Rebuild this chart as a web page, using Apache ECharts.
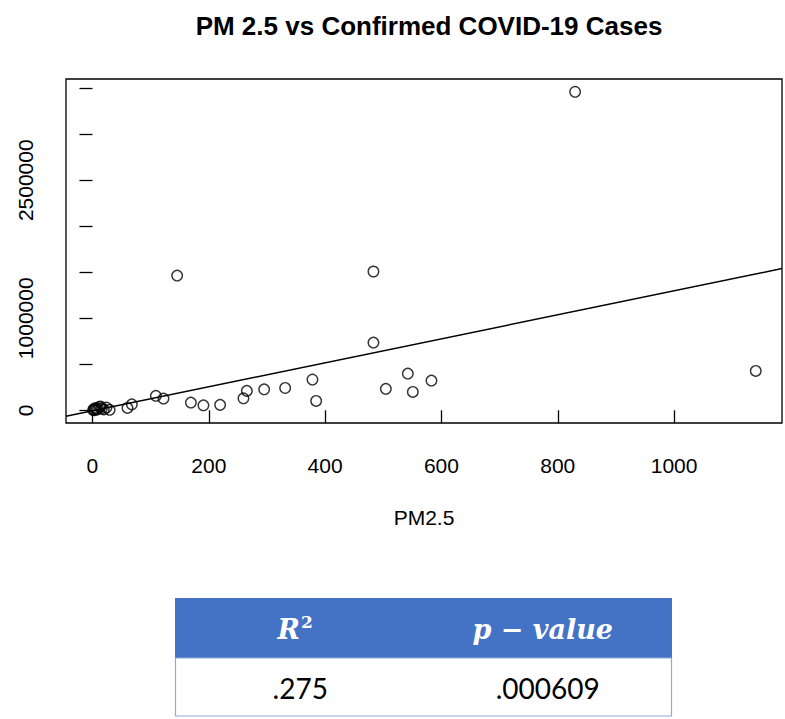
<!DOCTYPE html>
<html>
<head>
<meta charset="utf-8">
<script src="https://cdn.jsdelivr.net/npm/echarts@6/dist/echarts.min.js"></script>
<style>
  html, body { margin: 0; padding: 0; background: #fff; }
  #chart { width: 785px; height: 719px; }
</style>
</head>
<body>
<div id="chart"></div>
<script>
// PM2.5 level per region and its confirmed COVID-19 case count
const pm25 = [
  1.2, 2.5, 3.8, 5.1, 7.0, 9.5, 11.8, 13.5, 16.0, 19.5, 24.0, 29.5,
  60.2, 67.7, 109.0, 122.1, 145.6, 169.2, 190.8, 219.5, 259.6, 265.4,
  295.2, 331.3, 378.2, 384.6, 483.1, 483.1, 504.4, 542.2, 550.8, 582.8,
  829.8, 1140.4
];
const cases = [
  3000, 12000, 1500, 25000, 8000, 17000, 35000, 42000, 20000, 9000, 30000, 5000,
  26000, 65000, 157000, 127000, 1464000, 84000, 54000, 59000, 130000, 211000,
  228000, 243000, 334000, 102000, 1508000, 736000, 233000, 399000, 200000, 323000,
  3461000, 428000
];

// Least-squares fit: cases = intercept + slope * PM2.5
const fitIntercept = -5600;
const fitSlope = 1304;

// Axis ticks and the labels that are printed
const xTicks = [0, 200, 400, 600, 800, 1000];
const yTicks = [0, 500000, 1000000, 1500000, 2000000, 2500000, 3000000, 3500000];
const yTickLabels = [0, 1000000, 2500000];

// Model summary table
const statHeaders = ['R', 'p \u2212 value'];
const statValues = ['.275', '.000609'];

const xMin = -45.5, xMax = 1185.5;
const yMin = -138000, yMax = 3600000;

const points = pm25.map((x, i) => [x, cases[i]]);
const fitLine = [xMin, xMax].map(x => [x, fitIntercept + fitSlope * x]);

const chart = echarts.init(document.getElementById('chart'), null, { renderer: 'svg' });

const axisFont = { fontFamily: 'Liberation Sans, Arial, sans-serif', fontSize: 21, color: '#000' };
const plainNumber = v => String(Math.round(v));

// Table geometry
const tLeft = 175, tRight = 672, tTop = 598, tHeadBottom = 658, tBottom = 716;
const colW = (tRight - tLeft) / 2;

chart.setOption({
  animation: false,
  backgroundColor: '#fff',
  title: {
    text: 'PM 2.5 vs Confirmed COVID-19 Cases',
    left: 424,
    top: 8,
    textAlign: 'center',
    textStyle: { fontFamily: 'Liberation Sans, Arial, sans-serif', fontWeight: 'bold', fontSize: 26, color: '#000' }
  },
  grid: {
    left: 66, right: 3, top: 79, bottom: 296,
    show: true, borderColor: '#000', borderWidth: 1.3, backgroundColor: 'transparent'
  },
  xAxis: {
    type: 'value',
    min: xMin, max: xMax,
    name: 'PM2.5',
    nameLocation: 'middle',
    nameGap: 84,
    nameTextStyle: axisFont,
    axisLine: { show: false },
    axisTick: { show: true, length: 13, lineStyle: { color: '#000', width: 1.3 }, customValues: xTicks },
    axisLabel: { ...axisFont, margin: 32, customValues: xTicks, formatter: plainNumber },
    splitLine: { show: false }
  },
  yAxis: {
    type: 'value',
    min: yMin, max: yMax,
    axisLine: { show: false },
    axisTick: { show: true, length: 13, lineStyle: { color: '#000', width: 1.3 }, customValues: yTicks },
    axisLabel: { ...axisFont, rotate: 90, margin: 30, customValues: yTickLabels, formatter: plainNumber },
    splitLine: { show: false }
  },
  series: [
    {
      type: 'scatter',
      data: points,
      symbol: 'circle',
      symbolSize: 10.5,
      itemStyle: { color: 'rgba(255,255,255,0)', borderColor: '#000', borderWidth: 1.4 },
      z: 3
    },
    {
      type: 'line',
      data: fitLine,
      showSymbol: false,
      lineStyle: { color: '#000', width: 1.4 },
      clip: true,
      z: 2
    }
  ],
  graphic: [
    {
      type: 'rect',
      shape: { x: tLeft, y: tTop, width: tRight - tLeft, height: tHeadBottom - tTop },
      style: { fill: '#4472C4' }
    },
    {
      type: 'rect',
      shape: { x: tLeft + 0.5, y: tHeadBottom, width: tRight - tLeft - 1, height: tBottom - tHeadBottom },
      style: { fill: '#fff', stroke: '#8EAADB', lineWidth: 1.2 }
    },
    {
      type: 'text',
      x: tLeft + colW * 0.5 - 4, y: (tTop + tHeadBottom) / 2 + 1,
      style: {
        text: '{b|' + statHeaders[0] + '}{s|2}',
        align: 'center', verticalAlign: 'middle',
        rich: {
          b: { fontFamily: 'DejaVu Serif, serif', fontStyle: 'italic', fontWeight: 'bold', fontSize: 27, fill: '#fff', color: '#fff' },
          s: { fontFamily: 'DejaVu Serif, serif', fontWeight: 'bold', fontSize: 17, fill: '#fff', color: '#fff', verticalAlign: 'top', padding: [0, 0, 14, 1] }
        }
      }
    },
    {
      type: 'text',
      x: tLeft + colW * 1.5 - 5, y: (tTop + tHeadBottom) / 2 + 1,
      style: {
        text: statHeaders[1],
        align: 'center', verticalAlign: 'middle',
        font: 'italic bold 27px "DejaVu Serif", serif',
        fill: '#fff'
      }
    },
    {
      type: 'text',
      x: tLeft + colW * 0.5 + 1, y: (tHeadBottom + tBottom) / 2 + 1,
      style: {
        text: statValues[0],
        align: 'center', verticalAlign: 'middle',
        font: '28px Lato, "Open Sans", sans-serif',
        fill: '#000'
      }
    },
    {
      type: 'text',
      x: tLeft + colW * 1.5, y: (tHeadBottom + tBottom) / 2 + 1,
      style: {
        text: statValues[1],
        align: 'center', verticalAlign: 'middle',
        font: '28px Lato, "Open Sans", sans-serif',
        fill: '#000'
      }
    }
  ]
});
</script>
</body>
</html>
